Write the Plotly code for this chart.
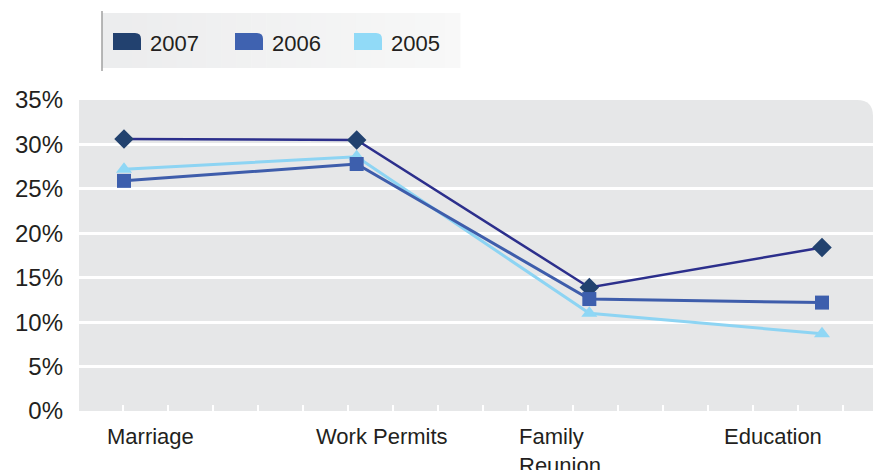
import numpy as np
import plotly.graph_objects as go

# ---- data ----
categories = ["Marriage", "Work Permits", "Family Reunion", "Education"]
category_labels = ["Marriage", "Work Permits", "Family<br>Reunion", "Education"]
years = ["2007", "2006", "2005"]
values_2007 = [30.6, 30.5, 13.9, 18.4]
values_2006 = [25.9, 27.8, 12.6, 12.2]
values_2005 = [27.2, 28.6, 11.0, 8.7]
y_ticks = [0, 5, 10, 15, 20, 25, 30, 35]
y_tick_labels = [f"{v}%" for v in y_ticks]

# ---- styles ----
W, H = 873, 470
PL, PR, PT, PB = 79, 873, 100, 411  # plot area in pixels
line_colors = {"2007": "#2C2F8C", "2006": "#3E5DAB", "2005": "#8DD4F3"}
marker_colors = {"2007": "#22426F", "2006": "#3D5FAD", "2005": "#8FD7F5"}
swatch_colors = {"2007": "#22416F", "2006": "#3F62B0", "2005": "#91DAF7"}
symbols = {"2007": "diamond", "2006": "square", "2005": "triangle-up"}
msizes = {"2007": 15, "2006": 14, "2005": 14}
lwidths = {"2007": 2.5, "2006": 3, "2005": 3}
FONT = "Liberation Sans, Arial, Helvetica, sans-serif"


def px(x):
    return (x - PL) / (PR - PL)


def py(y):
    return (PB - y) / (PB - PT)


x_idx = list(range(len(categories)))
cat_px = [124, 355, 589, 822]
spacing = (cat_px[-1] - cat_px[0]) / 3.0
x_range = [(PL - cat_px[0]) / spacing, (PR - cat_px[0]) / spacing]
tick_vals = list((np.arange(123, 850, 45) - cat_px[0]) / spacing)

series = {"2007": values_2007, "2006": values_2006, "2005": values_2005}

fig = go.Figure()
for yr in ["2005", "2007", "2006"]:
    fig.add_trace(go.Scatter(
        x=x_idx, y=series[yr], name=yr, mode="lines+markers",
        line=dict(color=line_colors[yr], width=lwidths[yr]),
        marker=dict(symbol=symbols[yr], size=msizes[yr], color=marker_colors[yr],
                    line=dict(width=0)),
        showlegend=False, hovertext=categories,
    ))

shapes = []
# plot background with rounded top-right corner
rx, ry = 16 / (PR - PL), 16 / (PB - PT)
shapes.append(dict(type="path", xref="paper", yref="paper", layer="below",
                   path=f"M 0,0 L 1,0 L 1,{1-ry} Q 1,1 {1-rx},1 L 0,1 Z",
                   fillcolor="#E6E7E8", line=dict(width=0)))

# legend box gradient
lx0, lx1, ly0, ly1 = 102, 460, 13, 68
n = 24
c0 = np.array([236, 237, 238])
c1 = np.array([248, 248, 248])
for i in range(n):
    a = lx0 + (lx1 - lx0) * i / n
    b = lx0 + (lx1 - lx0) * (i + 1) / n + 0.5
    c = (c0 + (c1 - c0) * i / (n - 1)).astype(int)
    shapes.append(dict(type="rect", xref="paper", yref="paper", layer="below",
                       x0=px(a), x1=px(b), y0=py(ly1), y1=py(ly0),
                       fillcolor=f"rgb({c[0]},{c[1]},{c[2]})", line=dict(width=0)))
shapes.append(dict(type="line", xref="paper", yref="paper",
                   x0=px(102), x1=px(102), y0=py(71), y1=py(11),
                   line=dict(color="#A0A0A0", width=1.5)))

annotations = []
sw_x = {"2007": 113, "2006": 235, "2005": 354}
txt_x = {"2007": 148, "2006": 270, "2005": 389}
for yr in years:
    x0, x1, y0, y1 = sw_x[yr], sw_x[yr] + 28, 33, 50
    r = 6
    path = (f"M {px(x0)},{py(y1)} L {px(x1)},{py(y1)} L {px(x1)},{py(y0 + r)} "
            f"Q {px(x1)},{py(y0)} {px(x1 - r)},{py(y0)} L {px(x0)},{py(y0)} Z")
    shapes.append(dict(type="path", xref="paper", yref="paper", path=path,
                       fillcolor=swatch_colors[yr], line=dict(width=0)))
    annotations.append(dict(xref="paper", yref="paper", x=px(txt_x[yr]), y=py(43),
                            xanchor="left", yanchor="middle", text=yr, showarrow=False,
                            font=dict(family=FONT, size=22, color="#231F20")))

label_left_px = [106, 315, 518, 723]
for lab, lx in zip(category_labels, label_left_px):
    annotations.append(dict(xref="paper", yref="paper", x=px(lx - 1), y=py(422),
                            xanchor="left", yanchor="top", align="left", text=lab,
                            showarrow=False,
                            font=dict(family=FONT, size=22, color="#231F20")))

fig.update_layout(
    width=W, height=H,
    margin=dict(l=PL, r=W - PR, t=PT, b=H - PB, pad=0),
    paper_bgcolor="white", plot_bgcolor="rgba(0,0,0,0)",
    shapes=shapes, annotations=annotations, showlegend=False,
    xaxis=dict(range=x_range, tickvals=tick_vals, ticks="inside", ticklen=6,
               tickwidth=2, tickcolor="white", showticklabels=False,
               showgrid=False, zeroline=False, showline=False, fixedrange=True),
    yaxis=dict(range=[0, 35], tickmode="array", tickvals=y_ticks, ticktext=y_tick_labels,
               showgrid=True, gridcolor="white", gridwidth=2.5, zeroline=False,
               showline=False, ticklabelstandoff=15,
               tickfont=dict(family=FONT, size=24, color="#231F20"), fixedrange=True),
)

fig.write_html("out.html", config={"displayModeBar": False},
               post_script="document.body.style.margin='0';document.body.style.overflow='hidden';")
